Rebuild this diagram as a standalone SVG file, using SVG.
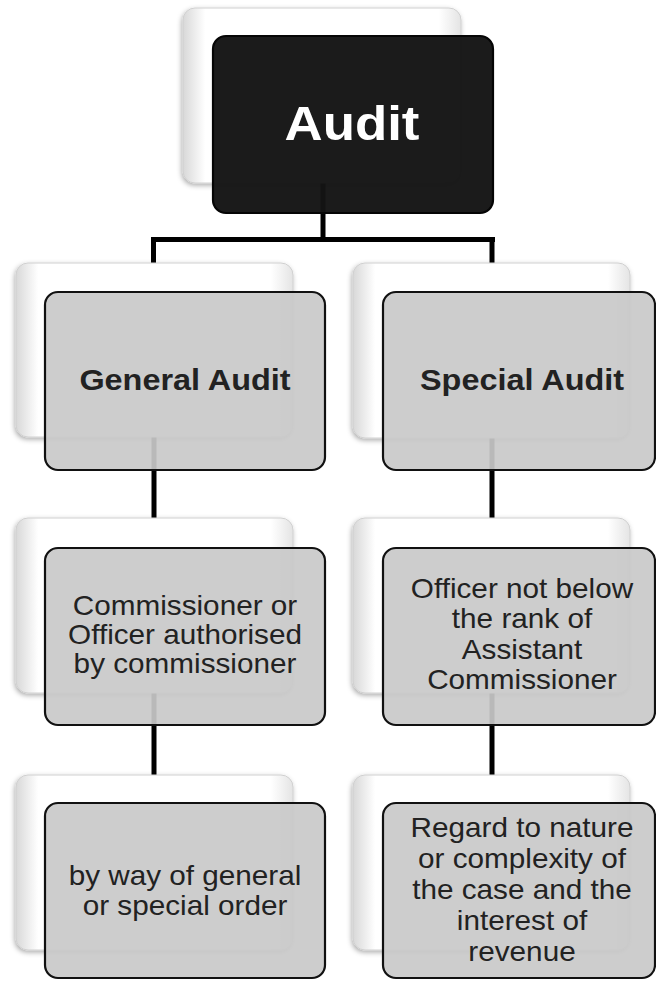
<svg xmlns="http://www.w3.org/2000/svg" width="656" height="981" viewBox="0 0 656 981">
<defs>
<linearGradient id="backH" x1="0" y1="0" x2="1" y2="0">
<stop offset="0" stop-color="#d8d8d8"/>
<stop offset="0.08" stop-color="#ffffff"/>
<stop offset="0.92" stop-color="#ffffff"/>
<stop offset="1" stop-color="#e4e4e4"/>
</linearGradient>
<filter id="sh" x="-10%" y="-10%" width="120%" height="125%">
<feDropShadow dx="-1" dy="2" stdDeviation="2.5" flood-color="#000" flood-opacity="0.32"/>
</filter>
<style>
.back{fill:url(#backH);stroke:#d0d0d0;stroke-width:1;filter:url(#sh)}
.front{fill:rgb(201,201,201);fill-opacity:0.92;stroke:#111;stroke-width:2.2}
.top{fill:#141414;fill-opacity:0.97;stroke:#050505;stroke-width:2.2}
.conn{stroke:#000;stroke-width:5;fill:none}
.t{font-family:"Liberation Sans",Arial,sans-serif;font-size:27px;fill:#222;text-anchor:middle}
.b{font-family:"Liberation Sans",Arial,sans-serif;font-size:30px;font-weight:bold;fill:#222;text-anchor:middle}
.w{font-family:"Liberation Sans",Arial,sans-serif;font-size:48px;font-weight:bold;fill:#fff;text-anchor:middle}
</style>
</defs>
<rect width="656" height="981" fill="#fff"/>
<g id="connectors">
<path class="conn" d="M323 183 V239.5 M151 239.5 H495 M153.5 237 V263 M492 237 V263"/>
<path class="conn" d="M154 437 V518 M154 693 V775"/>
<path class="conn" d="M492 438 V518 M492 693 V775"/>
</g>
<g id="audit">
<rect class="back" x="183" y="8" width="278" height="175" rx="12"/>
<rect class="top" x="213" y="36" width="280" height="177" rx="13"/>
<g transform="translate(352,0) scale(1.1,1)"><text class="w" x="0" y="140">Audit</text></g>
</g>
<g id="general-audit">
<rect class="back" x="16" y="263" width="277" height="174" rx="12"/>
<rect class="front" x="45" y="292" width="280" height="178" rx="13"/>
<g transform="translate(185,0) scale(1.08,1)"><text class="b" x="0" y="390">General Audit</text></g>
</g>
<g id="special-audit">
<rect class="back" x="353" y="263" width="277" height="175" rx="12"/>
<rect class="front" x="383" y="292" width="272" height="178" rx="13"/>
<g transform="translate(522,0) scale(1.08,1)"><text class="b" x="0" y="390">Special Audit</text></g>
</g>
<g id="general-officer">
<rect class="back" x="16" y="518" width="277" height="175" rx="12"/>
<rect class="front" x="45" y="548" width="280" height="177" rx="13"/>
<g transform="translate(185,0) scale(1.1,1)">
<text class="t" x="0" y="615">Commissioner or</text>
<text class="t" x="0" y="644">Officer authorised</text>
<text class="t" x="0" y="673">by commissioner</text>
</g>
</g>
<g id="special-officer">
<rect class="back" x="353" y="518" width="277" height="175" rx="12"/>
<rect class="front" x="383" y="548" width="272" height="177" rx="13"/>
<g transform="translate(522,0) scale(1.1,1)">
<text class="t" x="0" y="598">Officer not below</text>
<text class="t" x="0" y="628.5">the rank of</text>
<text class="t" x="0" y="659">Assistant</text>
<text class="t" x="0" y="689.5">Commissioner</text>
</g>
</g>
<g id="general-order">
<rect class="back" x="16" y="775" width="277" height="175" rx="12"/>
<rect class="front" x="45" y="803" width="280" height="175" rx="13"/>
<g transform="translate(185,0) scale(1.1,1)">
<text class="t" x="0" y="885">by way of general</text>
<text class="t" x="0" y="915">or special order</text>
</g>
</g>
<g id="special-regard">
<rect class="back" x="353" y="775" width="277" height="175" rx="12"/>
<rect class="front" x="383" y="803" width="272" height="175" rx="13"/>
<g transform="translate(522,0) scale(1.1,1)">
<text class="t" x="0" y="837">Regard to nature</text>
<text class="t" x="0" y="868">or complexity of</text>
<text class="t" x="0" y="899">the case and the</text>
<text class="t" x="0" y="930">interest of</text>
<text class="t" x="0" y="961">revenue</text>
</g>
</g>
</svg>
